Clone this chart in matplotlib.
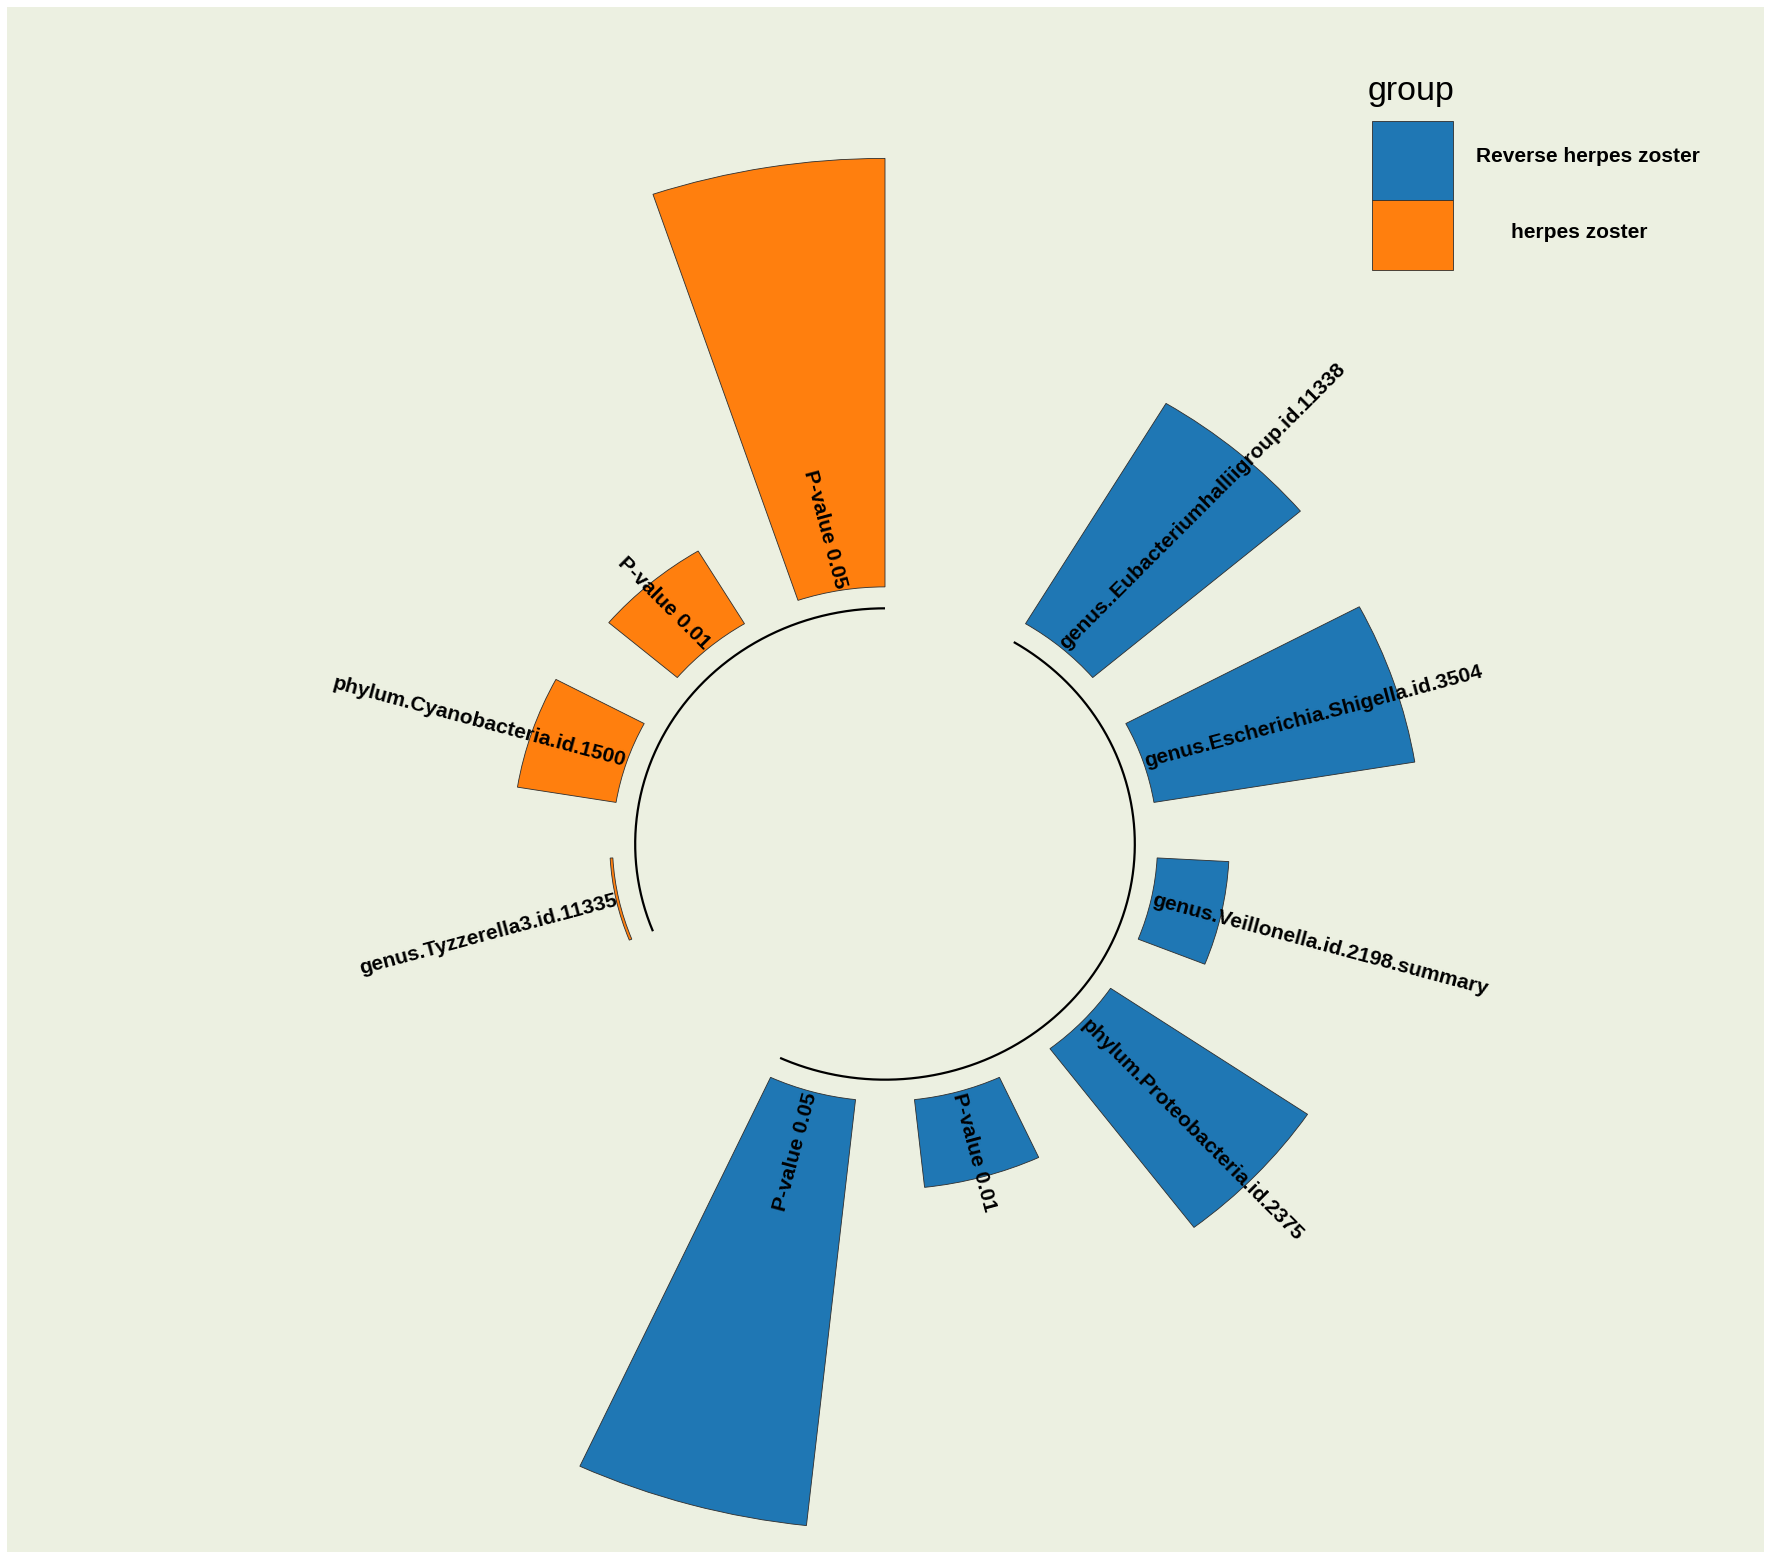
import numpy as np
import matplotlib.pyplot as plt
from matplotlib.patches import Rectangle

plt.rcParams['font.family'] = ['Liberation Sans', 'DejaVu Sans']

# data (bar height = p-value)
groups = ['Reverse herpes zoster', 'herpes zoster']
group_colors = ['#1f77b4', '#ff7f0e']

rhz_names = ['genus..Eubacteriumhalliigroup.id.11338',
             'genus.Escherichia.Shigella.id.3504',
             'genus.Veillonella.id.2198.summary',
             'phylum.Proteobacteria.id.2375',
             'P-value 0.01',
             'P-value 0.05']
rhz_values = [0.0300, 0.0291, 0.0079, 0.0262, 0.0103, 0.050]

hz_names = ['genus.Tyzzerella3.id.11335',
            'phylum.Cyanobacteria.id.1500',
            'P-value 0.01',
            'P-value 0.05']
hz_values = [0.0003, 0.0110, 0.0099, 0.050]

# one empty slot before each group, like the usual circular barplot recipe
ids, names, values, colors, spans = [], [], [], [], []
pos = 0
for grp_names, grp_values, col in [(rhz_names, rhz_values, group_colors[0]),
                                     (hz_names, hz_values, group_colors[1])]:
    pos += 1  # empty bar
    start = pos + 1
    for n, v in zip(grp_names, grp_values):
        pos += 1
        ids.append(pos)
        names.append(n)
        values.append(v)
        colors.append(col)
    spans.append((start, pos))
n_bar = pos
ids = np.array(ids)

bar_w = 0.6
x_lo = 1 - bar_w / 2
x_span = n_bar - 1 + bar_w


def to_theta(x):
    return 2 * np.pi * (np.asarray(x, dtype=float) - x_lo) / x_span


W, H = 1772, 1560
fig = plt.figure(figsize=(W / 100, H / 100), dpi=100)
fig.patch.set_facecolor('white')

# background + legend layer, pixel coordinates
bg = fig.add_axes([0, 0, 1, 1])
bg.set_xlim(0, W)
bg.set_ylim(H, 0)
bg.axis('off')
bg.add_patch(Rectangle((7, 7), 1757, 1545, facecolor='#ecf0e1', edgecolor='none'))

# polar panel
cx, cy = 885, 844
px_per_unit = 8570
r_min, r_max = -0.03, 0.062
ry = (r_max - r_min) * px_per_unit
rx = ry * 1.06
ax = fig.add_axes([(cx - rx) / W, 1 - (cy + ry) / H, 2 * rx / W, 2 * ry / H],
                  projection='polar')
ax.set_aspect('auto')
ax.set_theta_zero_location('N')
ax.set_theta_direction(-1)
ax.set_ylim(r_min, r_max)
ax.set_facecolor('none')
ax.axis('off')

ax.bar(to_theta(ids), values, width=2 * np.pi * bar_w / x_span, bottom=0,
       color=colors, edgecolor='#2e2e2e', linewidth=0.6, align='center')

# base line under each group
for s, e in spans:
    t = np.linspace(to_theta(s - bar_w / 2), to_theta(e + bar_w / 2), 300)
    ax.plot(t, np.full_like(t, -0.0025), color='black', lw=1.6,
            solid_capstyle='butt')

# bar labels
for i, n in zip(ids, names):
    ang = 90 - 360 * (i - 0.5) / n_bar
    if ang < -90:
        ang += 180
        ha = 'right'
    else:
        ha = 'left'
    ax.text(to_theta(i), 0.0002, n, rotation=ang, rotation_mode='anchor',
            ha=ha, va='center', fontsize=15.1, fontweight='bold')

# legend
bg.text(1368, 100, 'group', fontsize=24.5, ha='left', va='baseline')
bg.add_patch(Rectangle((1372, 121), 81, 79, facecolor=group_colors[0],
                       edgecolor='#2e2e2e', lw=0.6))
bg.add_patch(Rectangle((1372, 200), 81, 70, facecolor=group_colors[1],
                       edgecolor='#2e2e2e', lw=0.6))
bg.text(1588, 162, groups[0], fontsize=15, fontweight='bold',
        ha='center', va='baseline')
bg.text(1579, 238, groups[1], fontsize=15, fontweight='bold',
        ha='center', va='baseline')

fig.savefig('out.png', dpi=100)
